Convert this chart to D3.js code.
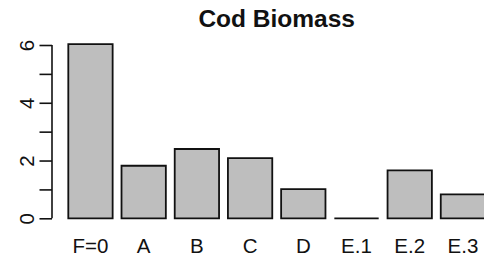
<!DOCTYPE html>
<html>
<head>
<meta charset="utf-8">
<script src="https://cdn.jsdelivr.net/npm/d3@7"></script>
<style>
  html, body { margin: 0; padding: 0; background: #fff; }
  svg { display: block; font-family: "Liberation Sans", Arial, Helvetica, sans-serif; }
</style>
</head>
<body>
<svg id="chart" width="484" height="264"></svg>
<script>
const categories = ["F=0", "A", "B", "C", "D", "E.1", "E.2", "E.3"];
const biomass = [6.03, 1.82, 2.40, 2.08, 1.01, 0.0, 1.66, 0.83];
const yTicks = [0, 1, 2, 3, 4, 5, 6];
const yTickLabels = [0, 2, 4, 6];
const title = "Cod Biomass";

const svg = d3.select("#chart");

const x = d3.scaleBand()
  .domain(categories)
  .range([68.3, 485.1])
  .paddingInner(1 / 6)
  .paddingOuter(0);

const y = d3.scaleLinear()
  .domain([0, 6])
  .range([218.3, 45]);

// bars (paths so that zero-height bars still show their outline)
svg.append("g")
  .selectAll("path")
  .data(categories)
  .join("path")
  .attr("d", (d, i) => {
    const x0 = x(d), x1 = x(d) + x.bandwidth();
    const y0 = y(0), y1 = y(biomass[i]);
    return `M${x0},${y0}V${y1}H${x1}V${y0}Z`;
  })
  .attr("fill", "#bebebe")
  .attr("stroke", "#111")
  .attr("stroke-width", 1.8)
  .attr("stroke-linejoin", "miter");

// y axis
const yAxis = d3.axisLeft(y)
  .tickValues(yTicks)
  .tickSize(12.5)
  .tickFormat(d => yTickLabels.includes(d) ? d : "");

const gy = svg.append("g")
  .attr("transform", "translate(52,0)")
  .call(yAxis);
gy.attr("font-size", 20.5).attr("font-family", "Liberation Sans, Arial, sans-serif");
gy.select(".domain")
  .attr("stroke", "#111")
  .attr("stroke-width", 1.6)
  .attr("d", `M0,${y(0)}V${y(6)}`);
gy.selectAll(".tick line").attr("stroke", "#111").attr("stroke-width", 1.6);
gy.selectAll(".tick text")
  .attr("x", null).attr("dy", null)
  .attr("transform", "translate(-18,0) rotate(-90)")
  .attr("text-anchor", "middle")
  .attr("fill", "#111");

// x labels
svg.append("g")
  .attr("font-size", 20.5)
  .selectAll("text")
  .data(categories)
  .join("text")
  .attr("x", d => x(d) + x.bandwidth() / 2)
  .attr("y", 252.7)
  .attr("text-anchor", "middle")
  .attr("fill", "#111")
  .text(d => d);

// title
svg.append("text")
  .attr("x", 276.7)
  .attr("y", 26.8)
  .attr("text-anchor", "middle")
  .attr("font-size", 24.5)
  .attr("font-weight", "bold")
  .attr("fill", "#111")
  .text(title);
</script>
</body>
</html>
